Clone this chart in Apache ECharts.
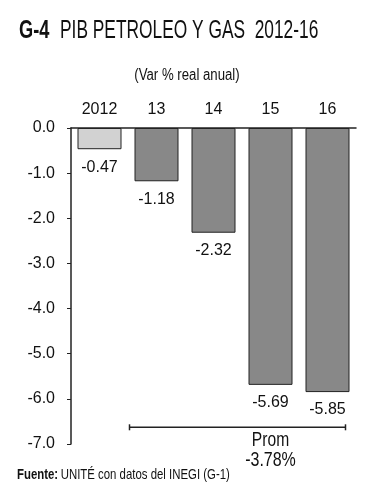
<!DOCTYPE html>
<html><head><meta charset="utf-8">
<script src="https://cdn.jsdelivr.net/npm/echarts@6/dist/echarts.min.js"></script>
<style>html,body{margin:0;padding:0;background:#fff}#c{width:389px;height:500px}</style>
</head><body><div id="c"></div>
<script>
const categories = ['2012', '13', '14', '15', '16'];
const values = [-0.47, -1.18, -2.32, -5.69, -5.85];
const avgLabel = ['Prom', '-3.78%'];
const FF = 'Liberation Sans';
const chart = echarts.init(document.getElementById('c'));
chart.setOption({
  animation: false,
  backgroundColor: '#fff',
  grid: { left: 71, right: 33, top: 128, bottom: 56 },
  xAxis: {
    type: 'category', position: 'top', data: categories,
    axisLine: { lineStyle: { color: '#222', width: 1.5 } },
    axisTick: { inside: true, length: 4, lineStyle: { color: '#222' } },
    axisLabel: { color: '#111', fontSize: 16, fontFamily: FF, margin: 10 }
  },
  yAxis: {
    type: 'value', min: -7, max: 0, interval: 1,
    axisLine: { show: true, lineStyle: { color: '#222', width: 1.5 } },
    axisTick: { show: true, length: 4, lineStyle: { color: '#222' } },
    splitLine: { show: false },
    axisLabel: { color: '#111', fontSize: 16, fontFamily: FF, margin: 16,
      formatter: v => v.toFixed(1) }
  },
  series: [{
    type: 'bar', barWidth: 44,
    data: values.map((v, i) => ({ value: v, itemStyle: { color: i === 0 ? '#d2d2d2' : '#888888' } })),
    itemStyle: { borderColor: '#222', borderWidth: 1 },
    label: { show: true, position: 'bottom', distance: 10, color: '#111', fontSize: 16,
      fontFamily: FF, formatter: p => p.value.toFixed(2) }
  }]
});
const p13 = chart.convertToPixel({ xAxisIndex: 0 }, '13');
const p15 = chart.convertToPixel({ xAxisIndex: 0 }, '15');
const p16 = chart.convertToPixel({ xAxisIndex: 0 }, '16');
const yLine = chart.convertToPixel({ yAxisIndex: 0 }, -6.63);
const x1 = p13 - 27, x2 = p16 + 18;
const txt = (x, y, text, size, weight, align, sx) => ({ type: 'text', x: x, y: y, scaleX: sx,
  style: { text: text, fontSize: size, fontFamily: FF, fontWeight: weight || 'normal', fill: '#111', align: align || 'left', verticalAlign: 'top' } });
chart.setOption({
  graphic: [
    txt(19, 18, 'G-4', 26, 'bold', 'left', 0.70),
    txt(60, 18, 'PIB PETROLEO Y GAS  2012-16', 26, 'normal', 'left', 0.667),
    txt(187, 68, '(Var % real anual)', 16, 'normal', 'center', 0.825),
    { type: 'text', x: 17, y: 467, scaleX: 0.76, style: { rich: {
        b: { fontSize: 15, fontFamily: FF, fontWeight: 'bold', fill: '#111' },
        n: { fontSize: 15, fontFamily: FF, fill: '#111' } },
      text: '{b|Fuente:} {n|UNITÉ con datos del INEGI (G-1)}', verticalAlign: 'top' } },
    { type: 'line', shape: { x1: x1, y1: yLine, x2: x2, y2: yLine }, style: { stroke: '#222', lineWidth: 1.5 } },
    { type: 'line', shape: { x1: x1, y1: yLine - 3, x2: x1, y2: yLine + 3 }, style: { stroke: '#222', lineWidth: 1.5 } },
    { type: 'line', shape: { x1: x2, y1: yLine - 3, x2: x2, y2: yLine + 3 }, style: { stroke: '#222', lineWidth: 1.5 } },
    txt(p15, yLine + 3, avgLabel[0], 20, 'normal', 'center', 0.78),
    txt(p15, yLine + 23, avgLabel[1], 20, 'normal', 'center', 0.8)
  ]
});
</script></body></html>
